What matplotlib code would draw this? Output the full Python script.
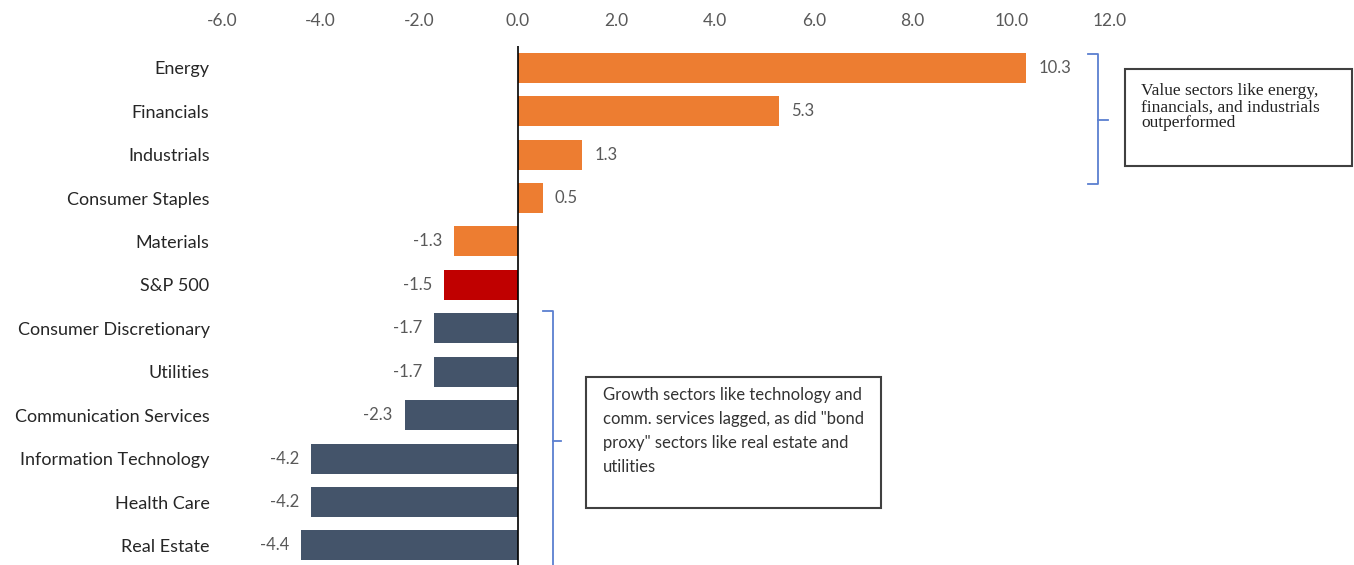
import matplotlib
matplotlib.use("Agg")
import matplotlib.pyplot as plt
from matplotlib.lines import Line2D
from matplotlib.patches import Rectangle

# data, top to bottom
sectors = ["Energy", "Financials", "Industrials", "Consumer Staples", "Materials", "S&P 500",
           "Consumer Discretionary", "Utilities", "Communication Services",
           "Information Technology", "Health Care", "Real Estate"]
returns = [10.3, 5.3, 1.3, 0.5, -1.3, -1.5, -1.7, -1.7, -2.3, -4.2, -4.2, -4.4]
groups = ["value", "value", "value", "value", "value", "index",
          "growth", "growth", "growth", "growth", "growth", "growth"]
x_ticks = [-6.0, -4.0, -2.0, 0.0, 2.0, 4.0, 6.0, 8.0, 10.0, 12.0]

colors = {"value": "#ED7D31", "index": "#C00000", "growth": "#44546A"}
note_value = "Value sectors like energy,\nfinancials, and industrials\noutperformed"
note_growth = ('Growth sectors like technology and\ncomm. services lagged, as did "bond\n'
               'proxy" sectors like real estate and\nutilities')

plt.rcParams["font.family"] = ["Lato", "DejaVu Sans"]

W, H = 1354, 565
fig = plt.figure(figsize=(W / 100, H / 100), dpi=100)
ax = fig.add_axes([222 / W, 0, 888 / W, 1 - 46 / H])

ypos = list(range(len(sectors)))
ax.barh(ypos, returns, height=0.69, color=[colors[g] for g in groups])
ax.set_xlim(-6, 12)
ax.set_ylim(11.45, -0.5)
ax.axvline(0, color="black", lw=1.2)

for y, v in zip(ypos, returns):
    if v >= 0:
        ax.annotate(f"{v:.1f}", (v, y), xytext=(12, 0), textcoords="offset pixels",
                    ha="left", va="center", fontsize=12, color="#595959")
    else:
        ax.annotate(f"{v:.1f}", (v, y), xytext=(-12, 0), textcoords="offset pixels",
                    ha="right", va="center", fontsize=12, color="#595959")

ax.xaxis.tick_top()
ax.set_xticks(x_ticks)
ax.set_xticklabels([f"{t:.1f}" for t in x_ticks], fontsize=12.5, color="#595959")
ax.tick_params(axis="x", length=0, pad=12)
ax.set_yticks(ypos)
ax.set_yticklabels(sectors, fontsize=13, color="#262626")
ax.tick_params(axis="y", length=0, pad=9)
for s in ax.spines.values():
    s.set_visible(False)

# brackets and notes, in pixel-based figure coords
def fx(px):
    return px / W

def fy(py):
    return 1 - py / H

brace = "#5B7FD0"
def bracket(x0, x1, xt, ytop, ybot, ymid):
    pts = [(x0, ytop), (x1, ytop), (x1, ybot), (x0, ybot)]
    fig.add_artist(Line2D([fx(p[0]) for p in pts], [fy(p[1]) for p in pts],
                          color=brace, lw=1.3))
    fig.add_artist(Line2D([fx(x1), fx(xt)], [fy(ymid), fy(ymid)], color=brace, lw=1.3))

bracket(1088, 1098, 1108, 54, 184, 120)
bracket(543, 553, 561, 311, 575, 441)

fig.add_artist(Rectangle((fx(1125), fy(166)), fx(1352) - fx(1125), fy(69) - fy(166),
                         fill=False, edgecolor="#404040", lw=1.5))
fig.text(fx(1141), fy(83), note_value, family="Liberation Serif", fontsize=12.5,
         color="#222222", va="top", ha="left", linespacing=1.02)

fig.add_artist(Rectangle((fx(586), fy(508)), fx(881) - fx(586), fy(377) - fy(508),
                         fill=False, edgecolor="#404040", lw=1.5))
fig.text(fx(603), fy(387), note_growth, fontsize=12, color="#333333",
         va="top", ha="left", linespacing=1.62)

fig.savefig("out.png", dpi=100)
